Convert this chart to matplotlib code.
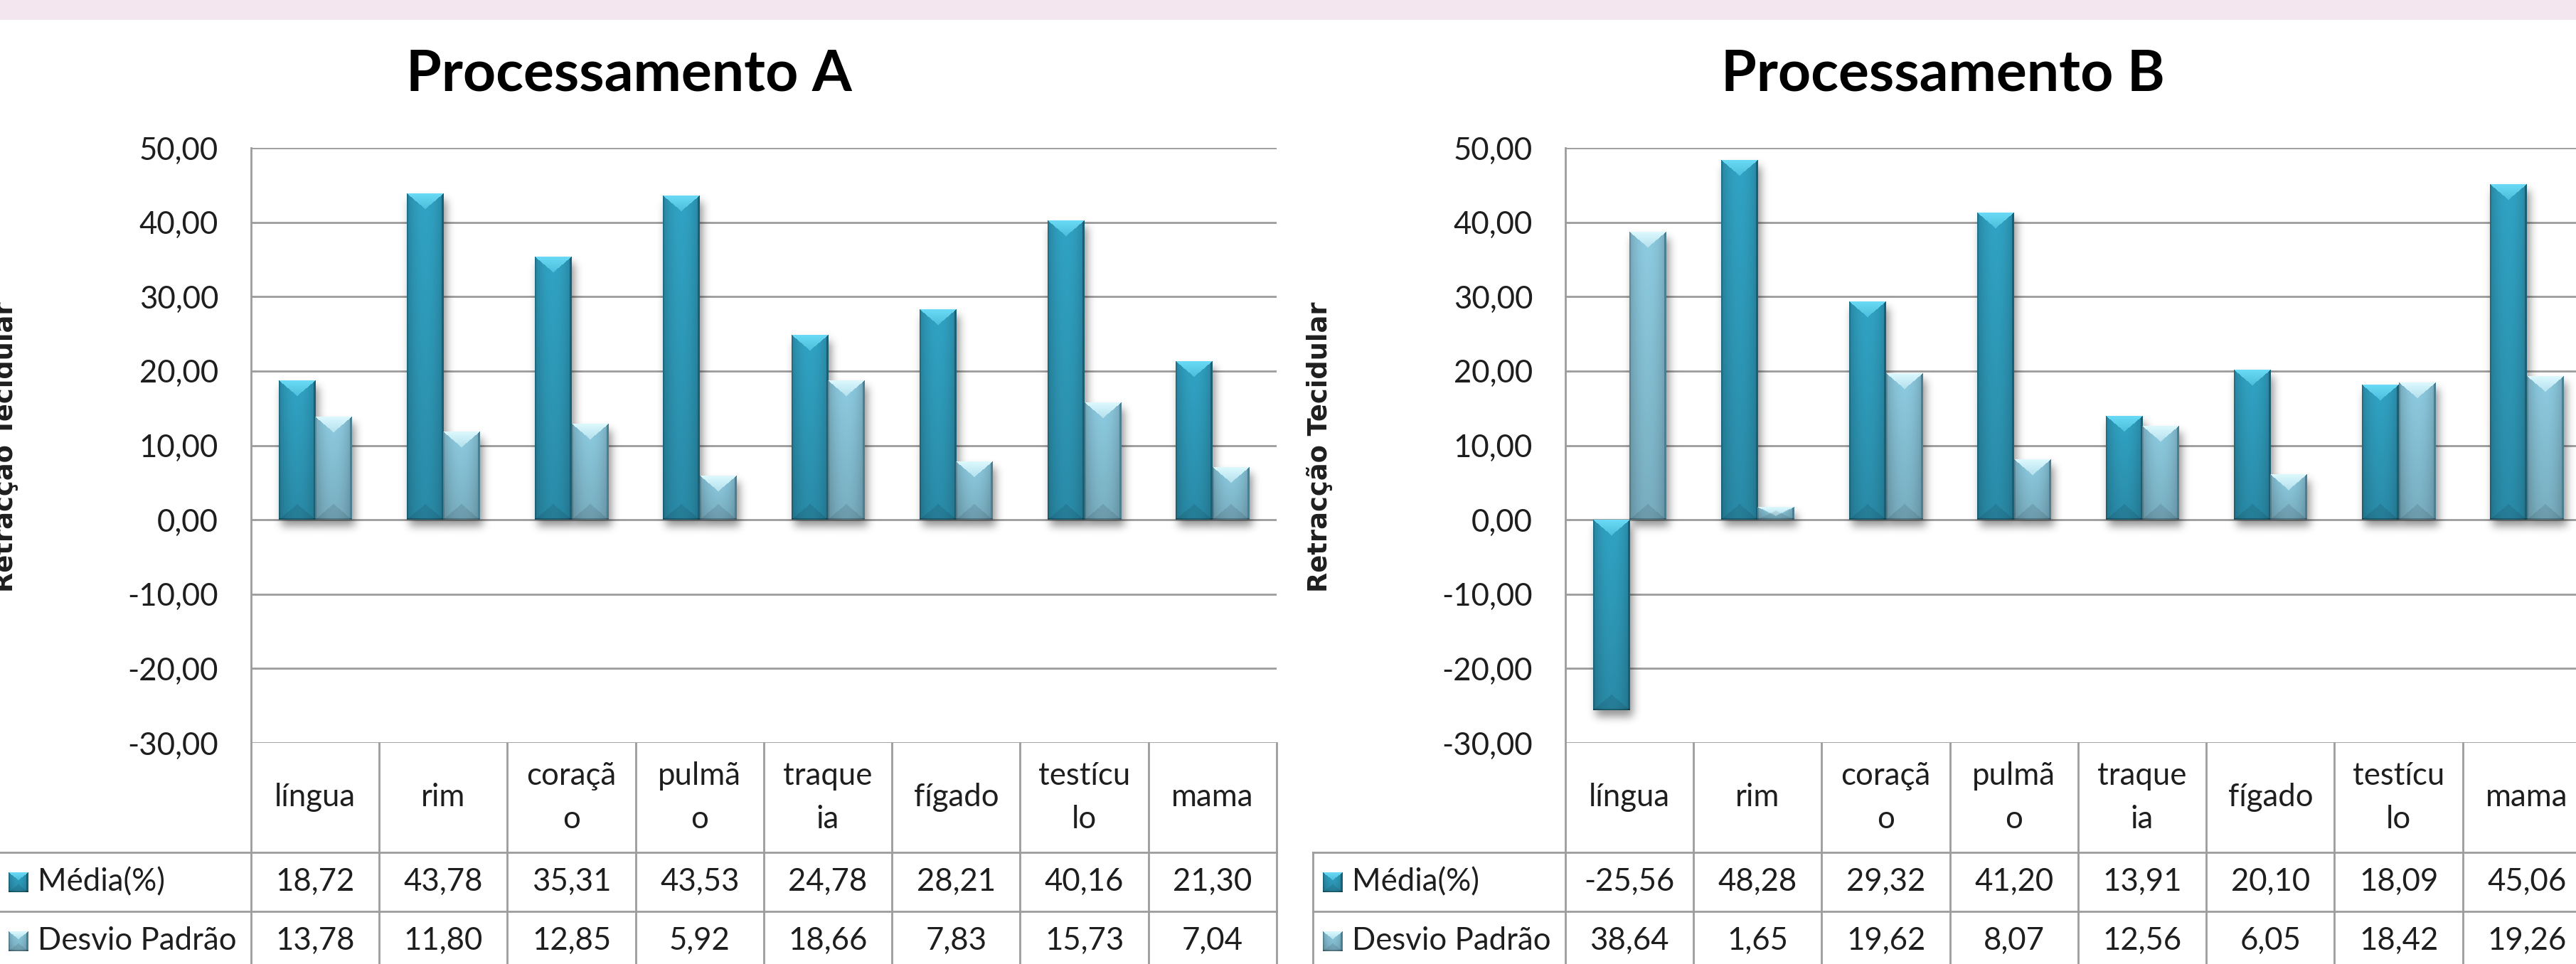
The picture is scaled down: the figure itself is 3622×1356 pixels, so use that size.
import numpy as np
import matplotlib
matplotlib.use("Agg")
import matplotlib.pyplot as plt
from matplotlib.transforms import blended_transform_factory
from matplotlib.lines import Line2D
from matplotlib.patches import Rectangle

# ---------------- data ----------------
categories = ["língua", "rim", "coração", "pulmão", "traqueia", "fígado", "testículo", "mama"]
category_labels = ["língua", "rim", "coraçã\no", "pulmã\no", "traque\nia", "fígado", "testícu\nlo", "mama"]
series_names = ["Média(%)", "Desvio Padrão"]
media_A = [18.72, 43.78, 35.31, 43.53, 24.78, 28.21, 40.16, 21.30]
desvio_A = [13.78, 11.80, 12.85, 5.92, 18.66, 7.83, 15.73, 7.04]
media_B = [-25.56, 48.28, 29.32, 41.20, 13.91, 20.10, 18.09, 45.06]
desvio_B = [38.64, 1.65, 19.62, 8.07, 12.56, 6.05, 18.42, 19.26]
titles = ["Processamento A", "Processamento B"]
y_label = "Retracção Tecidular"
y_ticks = [50, 40, 30, 20, 10, 0, -10, -20, -30]

# ---------------- layout ----------------
W, H = 3623, 1356
DPI = 100
fig = plt.figure(figsize=(W / DPI, H / DPI), dpi=DPI)
fig.patch.set_facecolor("white")

def fx(p):
    return p / W

def fy(p):
    return 1 - p / H

FONT = ["Lato", "DejaVu Sans"]
FS = 31.5
TXT = "#1e1e1e"
GRID = "#9c9c9c"
LW = 2.0

fig.add_artist(Rectangle((0, fy(28)), 1, 28 / H, transform=fig.transFigure,
                         facecolor="#F3E6EE", edgecolor="none", zorder=0))

plot_top, plot_bot = 208, 1045
plot_w = 1442
plot_lefts = [353, 2201]
row_cat_mid, row1_top, row2_top, row_bot = 1122, 1199, 1282, 1365
legend_w = 355

ppu = (plot_bot - plot_top) / 80.0     # px per y unit
ppx = plot_w / 8.0                      # px per category
bar_w = 1 / 3.5


def hex2rgb(h):
    return np.array([int(h[i:i + 2], 16) for i in (1, 3, 5)]) / 255.0


STYLES = [
    dict(base="#30A0C1", edge="#1A5F73", light="#6ADBF6"),
    dict(base="#8BC8DD", edge="#4C7F91", light="#DDF9FE"),
]


def bar_rgb(hpx, wpx, style, bevel=22):
    hpx = max(int(round(hpx)), 2)
    wpx = max(int(round(wpx)), 2)
    u = (np.arange(wpx) + 0.5) / wpx
    y = np.arange(hpx) + 0.5
    t = y / hpx
    base = hex2rgb(style["base"])
    horiz = 0.80 + 0.22 * np.sin(np.pi * u) ** 0.7
    vert = 1.0 - 0.15 * t
    img = base[None, None, :] * horiz[None, :, None] * vert[:, None, None]
    edge = hex2rgb(style["edge"])
    rmask = u > 1 - 3.0 / wpx
    img[:, rmask, :] = edge
    lmask = u < 1.6 / wpx
    img[:, lmask, :] *= 0.85
    b = min(bevel, hpx * 0.7)
    tri = 1 - np.abs(2 * u - 1)
    yy = y[:, None]
    frac = np.clip(yy / b, 0, 1)[..., None]
    light = hex2rgb(style["light"])
    lightimg = light[None, None, :] * (1 - 0.5 * frac) + base[None, None, :] * 0.5 * frac
    top_tri = (yy < b * tri[None, :])[..., None]
    img = np.where(top_tri, lightimg, img)
    ybot = (hpx - y)[:, None]
    bot_tri = (ybot < b * tri[None, :])[..., None]
    img = np.where(bot_tri, img * 0.9, img)
    bot_edge = (ybot < 2.5)[..., None]
    img = np.where(bot_edge, img * 0.75, img)
    return np.clip(img, 0, 1)


def blurred_box(n_in, pad, sigma):
    n = n_in + 2 * pad
    x = np.zeros(n)
    x[pad:pad + n_in] = 1
    k = np.arange(-3 * sigma, 3 * sigma + 1)
    g = np.exp(-0.5 * (k / sigma) ** 2)
    g /= g.sum()
    return np.convolve(x, g, mode="same")


def draw_panel(left, media, desvio, title):
    ax = fig.add_axes([fx(left), fy(plot_bot), plot_w / W, (plot_bot - plot_top) / H])
    ax.set_xlim(-0.5, 7.5)
    ax.set_ylim(-30, 50)
    for s in ax.spines.values():
        s.set_visible(False)
    ax.set_xticks([])
    ax.set_yticks(y_ticks)
    ax.set_yticklabels([f"{v:.2f}".replace(".", ",") for v in y_ticks],
                       fontfamily=FONT, fontsize=FS, color=TXT)
    ax.tick_params(axis="y", length=0, pad=33)
    ax.yaxis.grid(True, color=GRID, lw=LW)
    ax.set_axisbelow(True)

    wpx = bar_w * ppx
    for k, vals in enumerate([media, desvio]):
        style = STYLES[k]
        for i, v in enumerate(vals):
            x0 = i - bar_w + k * bar_w
            x1 = x0 + bar_w
            lo, hi = min(0, v), max(0, v)
            hpx = abs(v) * ppu
            # shadow
            pad, sig = 24, 6
            hs = max(int(round(hpx)), 2)
            ws = int(round(wpx))
            by = blurred_box(hs, pad, sig)
            bx = blurred_box(ws, pad, sig)
            alpha = np.outer(by, bx) * 0.42
            rgba = np.zeros(alpha.shape + (4,))
            rgba[..., 3] = alpha
            dx, dy = 4 / ppx, 9 / ppu
            ax.imshow(rgba, extent=(x0 - pad / ppx + dx, x1 + pad / ppx + dx,
                                    lo - pad / ppu - dy, hi + pad / ppu - dy),
                      origin="upper", aspect="auto", interpolation="bilinear", zorder=2)
            img = bar_rgb(hpx, wpx, style)
            ax.imshow(img, extent=(x0, x1, lo, hi), origin="upper", aspect="auto",
                      interpolation="bilinear", zorder=3)
    ax.set_xlim(-0.5, 7.5)
    ax.set_ylim(-30, 50)
    ax.set_aspect("auto")

    T = blended_transform_factory(ax.transData, fig.transFigure)
    leg_left = -0.5 - legend_w / ppx
    bottom = fy(H + 20)
    lines = [
        ([-0.5, -0.5], [fy(plot_top), bottom]),
        ([leg_left, leg_left], [fy(row1_top), bottom]),
        ([leg_left, 7.5], [fy(row1_top), fy(row1_top)]),
        ([leg_left, 7.5], [fy(row2_top), fy(row2_top)]),
        ([leg_left, 7.5], [fy(row_bot), fy(row_bot)]),
    ]
    for i in range(8):
        lines.append(([i + 0.5, i + 0.5], [fy(plot_bot), bottom]))
    for xs, ys in lines:
        fig.add_artist(Line2D(xs, ys, transform=T, color=GRID, lw=LW, clip_on=False))

    for i, lab in enumerate(category_labels):
        ax.text(i, fy(row_cat_mid), lab, transform=T, ha="center", va="center",
                fontfamily=FONT, fontsize=FS, color=TXT, linespacing=1.62, clip_on=False)
    for r, (vals, mid) in enumerate([(media, (row1_top + row2_top) / 2),
                                     (desvio, (row2_top + row_bot) / 2)]):
        for i, v in enumerate(vals):
            ax.text(i, fy(mid), f"{v:.2f}".replace(".", ","), transform=T,
                    ha="center", va="center", fontfamily=FONT, fontsize=FS,
                    color=TXT, clip_on=False)
        # legend key
        kx = left - legend_w + 14
        ky = mid - 14
        kax = fig.add_axes([fx(kx), fy(ky + 28), 28 / W, 28 / H])
        kax.imshow(bar_rgb(28, 28, STYLES[r], bevel=11), aspect="auto",
                   interpolation="bilinear")
        kax.axis("off")
        ax.text(leg_left + 55 / ppx, fy(mid), series_names[r], transform=T,
                ha="left", va="center", fontfamily=FONT, fontsize=FS, color=TXT,
                clip_on=False)

    fig.text(fx(left + 531), fy(127), title, ha="center", va="baseline",
             fontfamily=FONT, fontsize=58, fontweight="bold", color="black")
    fig.text(fx(left - 345), fy(629), y_label, rotation=90, ha="center", va="center",
             fontfamily="DejaVu Sans", fontsize=26.5, fontweight="bold", color=TXT)
    return ax


draw_panel(plot_lefts[0], media_A, desvio_A, titles[0])
draw_panel(plot_lefts[1], media_B, desvio_B, titles[1])

fig.savefig("out.png", dpi=DPI, facecolor="white")
